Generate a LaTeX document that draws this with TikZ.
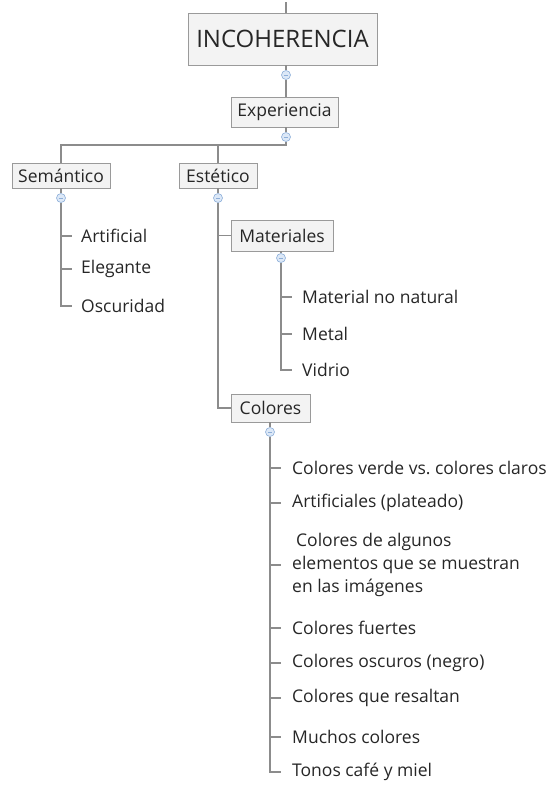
\documentclass[tikz,border=0pt]{standalone}
\usepackage{fontspec}
\setmainfont{Open Sans}
\definecolor{ink}{HTML}{262626}
\definecolor{linkc}{HTML}{8C8C8C}
\definecolor{boxline}{HTML}{9A9A9A}
\definecolor{boxfill}{HTML}{F3F3F3}
\definecolor{togline}{HTML}{8EAFD9}
\definecolor{togfill}{HTML}{DCE8F7}
\begin{document}
\begin{tikzpicture}[x=1pt,y=-1pt,
  box/.style={draw=boxline, fill=boxfill, line width=0.9pt, inner sep=0pt,
    font=\fontsize{17.5}{20}\selectfont, text=ink},
  leaf/.style={anchor=west, inner sep=0pt, font=\fontsize{17.5}{23}\selectfont,
    text=ink, align=left},
  toggle/.style={circle, draw=togline, fill=togfill, minimum size=9pt,
    inner sep=0pt, line width=0.6pt,
    path picture={\draw[togline, line width=0.8pt]
      ([xshift=-2.3pt]path picture bounding box.center) --
      ([xshift=2.3pt]path picture bounding box.center);}},
  link/.style={draw=linkc, line width=1.1pt},
  tick/.style={draw=linkc, line width=1.1pt}]

\useasboundingbox (0,0) rectangle (551,785);

% ---- root and first level ----
\coordinate (top) at (286,2);
\node[box, minimum width=189pt, minimum height=52pt,
  font=\fontsize{24}{26}\selectfont] (root) at (282.5,39) {INCOHERENCIA};
\node[toggle] (troot) at (286,75) {};
\node[box, minimum width=107pt, minimum height=30pt] (exp) at (284.5,112) {Experiencia};
\node[toggle] (texp) at (286,137) {};
\coordinate (split) at (286,145);

\node[box, minimum width=98pt, minimum height=25pt] (sem) at (61,175.5) {Semántico};
\node[box, minimum width=78pt, minimum height=25pt] (est) at (218,175.5) {Estético};
\node[toggle] (tsem) at (61,198) {};
\node[toggle] (test) at (218,198) {};

\draw[link] (top) -- (top |- root.north);
\draw[link] (root.south -| troot) -- (troot);
\draw[link] (troot) -- (troot |- exp.north);
\draw[link] (exp.south -| texp) -- (texp);
\draw[link] (texp) -- (split) -| (sem.north);
\draw[link] (split -| est.north) -- (est.north);
\draw[link] (sem.south -| tsem) -- (tsem);
\draw[link] (est.south -| test) -- (test);

% ---- Semántico ----
\node[leaf] (s1) at (81,236) {Artificial};
\node[leaf] (s2) at (81,269) {Elegante};
\node[leaf] (s3) at (81,306) {Oscuridad};
\draw[link] (tsem) -- (tsem |- s3.west) -- ([xshift=-9pt]s3.west);
\foreach \n in {s1,s2}
  \draw[tick] (tsem |- \n.west) -- ([xshift=-9pt]\n.west);

% ---- Estético ----
\node[box, minimum width=102pt, minimum height=31pt] (mat) at (282,235.5) {Materiales};
\node[box, minimum width=79pt, minimum height=28pt] (col) at (270.5,408) {Colores};
\draw[link] (test) -- (test |- col.west) -- (col.west);
\draw[tick] (test |- mat.west) -- (mat.west);

% ---- Materiales ----
\node[toggle] (tmat) at (281,258) {};
\draw[link] (mat.south -| tmat) -- (tmat);
\node[leaf] (m1) at (302,297) {Material no natural};
\node[leaf] (m2) at (302,334) {Metal};
\node[leaf] (m3) at (302,370) {Vidrio};
\draw[link] (tmat) -- (tmat |- m3.west) -- ([xshift=-10pt]m3.west);
\foreach \n in {m1,m2}
  \draw[tick] (tmat |- \n.west) -- ([xshift=-10pt]\n.west);

% ---- Colores ----
\node[toggle] (tcol) at (270,432) {};
\draw[link] (col.south -| tcol) -- (tcol);
\node[leaf] (c1) at (292,468) {Colores verde vs.\ colores claros};
\node[leaf] (c2) at (292,503) {Artificiales (plateado)};
\node[leaf] (c3) at (292,565) {\hspace*{4pt}Colores de algunos\\elementos que se muestran\\en las imágenes};
\node[leaf] (c4) at (292,628) {Colores fuertes};
\node[leaf] (c5) at (292,663) {Colores oscuros (negro)};
\node[leaf] (c6) at (292,698) {Colores que resaltan};
\node[leaf] (c7) at (292,737) {Muchos colores};
\node[leaf] (c8) at (292,772) {Tonos café y miel};
\draw[link] (tcol) -- (tcol |- c8.west) -- ([xshift=-11pt]c8.west);
\foreach \n in {c1,c2,c3,c4,c5,c6,c7}
  \draw[tick] (tcol |- \n.west) -- ([xshift=-11pt]\n.west);
\end{tikzpicture}
\end{document}
